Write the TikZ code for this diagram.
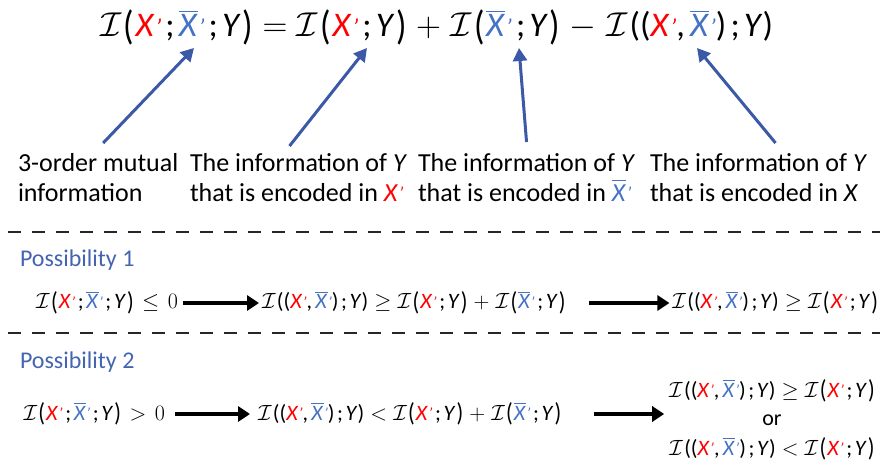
\documentclass[tikz,border=0pt]{standalone}
\usepackage{fix-cm}
\usepackage{amsmath}
\usepackage{graphicx}
\usepackage{fontspec}
\setmainfont{Carlito}
\usetikzlibrary{arrows.meta}
\definecolor{xred}{RGB}{255,0,0}
\definecolor{xblue}{RGB}{68,114,196}
\definecolor{arrblue}{RGB}{59,89,166}
\definecolor{posblue}{RGB}{68,100,178}
\definecolor{dashgray}{RGB}{38,38,38}
\newcommand\Ic{\ensuremath{\mathcal{I}}\kern.06em}
\newcommand\myprime{\raisebox{.05em}{\scalebox{.7}{\textit{’}}}}
\newcommand\Xr{\textcolor{xred}{\textit{X}\kern.02em\myprime}}
\newcommand\Xb{\textcolor{xblue}{$\overline{\mbox{\textit{X}}}$\kern.02em\myprime}}
\newcommand\Yi{\textit{Y}}
\newcommand\sep{\kern.12em;\kern.12em}
\newcommand\LP{\raisebox{-.07em}{\scalebox{1}[1.18]{(}}\kern.05em}
\newcommand\RP{\kern.05em\raisebox{-.07em}{\scalebox{1}[1.18]{)}}}
\newcommand\Ithree{\Ic\LP\Xr\sep\Xb\sep\Yi\RP}
\newcommand\Ione{\Ic\LP\Xr\sep\Yi\RP}
\newcommand\Itwo{\Ic\LP\Xb\sep\Yi\RP}
\newcommand\Ijoint{\Ic((\Xr,\kern.15em\Xb)\sep\Yi)}
\newcommand\rel[1]{\ensuremath{\mkern5mu#1\mkern5mu}}
\newcommand\rrel[1]{\ensuremath{\mkern7mu#1\mkern7mu}}
\begin{document}
\begin{tikzpicture}[x=1pt,y=-1pt,
  every node/.style={inner sep=0pt,outer sep=0pt},
  eqtop/.style={font=\fontsize{34.5}{41}\selectfont,anchor=base west},
  lab/.style={font=\fontsize{26}{30}\selectfont,align=left,anchor=north west},
  rowtxt/.style={font=\fontsize{22}{27}\selectfont},
  poss/.style={font=\fontsize{24}{29}\selectfont,text=posblue,anchor=base west},
  bluearrow/.style={draw=arrblue,line width=3pt,-{Triangle[length=13pt,width=14pt]},fill=arrblue},
  blackarrow/.style={draw=black,line width=3.6pt,-{Triangle[length=12pt,width=15pt]}},
  dashline/.style={draw=dashgray,line width=2.6pt,dash pattern=on 13pt off 11pt}]
\useasboundingbox (0,0) rectangle (881,470);

% top equation
\node[eqtop] (eq) at (100,37) {\Ithree\rel{=}\Ione\rel{+}\Itwo\rel{-}\Ijoint};
\coordinate (h1) at (194,48);
\coordinate (h2) at (367,48);
\coordinate (h3) at (519,48);
\coordinate (h4) at (697,48);

% labels
\node[lab] (l1) at (18,153) {3-order mutual\\information};
\node[lab] (l2) at (190,153) {The information of \Yi\\that is encoded in \Xr};
\node[lab] (l3) at (418,153) {The information of \Yi\\that is encoded in \Xb};
\node[lab] (l4) at (650,153) {The information of \Yi\\that is encoded in \textit{X}};

\draw[bluearrow] ([xshift=5pt,yshift=10pt]l1.north) -- (h1);
\draw[bluearrow] ([xshift=-9pt,yshift=7pt]l2.north) -- (h2);
\draw[bluearrow] ([xshift=0pt,yshift=11pt]l3.north) -- (h3);
\draw[bluearrow] ([xshift=17pt,yshift=10pt]l4.north) -- (h4);

% dashed separators
\coordinate (d1a) at (8,232);  \coordinate (d1b) at (880,232);
\coordinate (d2a) at (8,333);  \coordinate (d2b) at (880,333);
\draw[dashline] (d1a) -- (d1b);
\draw[dashline] (d2a) -- (d2b);

% possibility 1
\node[poss] (p1) at (20,267) {Possibility 1};
\node[rowtxt,anchor=base east] (r1a) at (178,309) {\Ithree\rrel{\leq}$0$};
\node[rowtxt,anchor=base west] (r1b) at (262,309) {\Ijoint\rel{\geq}\Ione\rel{+}\Itwo};
\node[rowtxt,anchor=base east] (r1c) at (878,309) {\Ijoint\rel{\geq}\Ione};
\draw[blackarrow] ([xshift=5pt,yshift=6pt]r1a.base east) -- ([xshift=-3pt,yshift=6pt]r1b.base west);
\draw[blackarrow] ([xshift=-3pt,yshift=6pt]r1c.base west -| 592,0) -- ([xshift=-3pt,yshift=6pt]r1c.base west);

% possibility 2
\node[poss] (p2) at (20,368) {Possibility 2};
\node[rowtxt,anchor=base east] (r2a) at (165,420) {\Ithree\rrel{>}$0$};
\node[rowtxt,anchor=base west] (r2b) at (258,420) {\Ijoint\rel{<}\Ione\rel{+}\Itwo};
\node[rowtxt,anchor=base] (r2c1) at (772,397) {\Ijoint\rel{\geq}\Ione};
\node[rowtxt,anchor=base] (r2or) at (772,425) {or};
\node[rowtxt,anchor=base] (r2c2) at (772,455) {\Ijoint\rel{<}\Ione};
\draw[blackarrow] ([xshift=10pt,yshift=6pt]r2a.base east) -- ([xshift=-8pt,yshift=6pt]r2b.base west);
\draw[blackarrow] ([yshift=6pt]r2b.base east -| 594,0) -- ([xshift=-5pt,yshift=6pt]r2b.base east -| r2c1.west);
\end{tikzpicture}
\end{document}
